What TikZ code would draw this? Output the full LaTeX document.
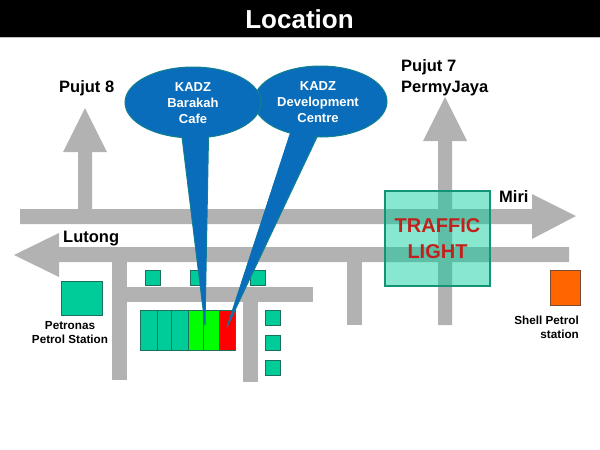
\documentclass[tikz,border=0pt]{standalone}
\usepackage{fontspec}
\setmainfont{Liberation Sans}
\usetikzlibrary{shapes.geometric, positioning}

\definecolor{roadgray}{HTML}{B2B2B2}
\definecolor{blockgreen}{HTML}{00CC99}
\definecolor{blockline}{HTML}{1F6F5F}
\definecolor{balloonblue}{HTML}{0A6DBB}
\definecolor{balloonline}{HTML}{12808F}
\definecolor{lightred}{HTML}{C0211C}
\definecolor{shellline}{HTML}{7A4A30}

\begin{document}
\begin{tikzpicture}[
    x=1pt, y=-1pt,
    % Define node styles
    road/.style={fill=roadgray},
    block/.style={
        rectangle,
        draw=blockline,
        fill=blockgreen,
        line width=0.8pt,
        minimum width=15pt,
        minimum height=15pt,
        inner sep=0pt
    },
    cell/.style={
        block,
        anchor=north west,
        minimum height=40pt
    },
    balloon/.style={
        ellipse,
        draw=balloonline,
        fill=balloonblue,
        line width=1pt,
        text=white,
        inner sep=0pt,
        align=center,
        font=\bfseries\fontsize{13}{16}\selectfont
    },
    place/.style={
        inner sep=0pt,
        align=left,
        font=\bfseries\fontsize{16.5}{20.5}\selectfont
    },
    small/.style={
        inner sep=0pt,
        font=\bfseries\fontsize{11.7}{14}\selectfont
    }
]
    \useasboundingbox (0,0) rectangle (600,450);

    % Title bar
    \fill[black] (0,0) rectangle (600,37);
    \node[text=white, inner sep=0pt, font=\bfseries\fontsize{26}{30}\selectfont] (title) at (299.5,19.5) {Location};
    \fill[gray!50] (0,37) rectangle (600,38.2);

    % Roads with arrow heads
    \fill[road] (20,209) -- (532,209) -- (532,194) -- (576,216) -- (532,239)
        -- (532,224) -- (20,224) -- cycle;
    \fill[road] (569,247) -- (59,247) -- (59,233) -- (14,255) -- (59,277)
        -- (59,262) -- (569,262) -- cycle;
    \fill[road] (78,209) -- (78,152) -- (63,152) -- (85,108) -- (107,152)
        -- (92,152) -- (92,209) -- cycle;
    \fill[road] (438,325) -- (438,141) -- (423,141) -- (445,97) -- (467,141)
        -- (452,141) -- (452,325) -- cycle;

    % Side streets
    \fill[road] (112,262) rectangle (127,380);
    \fill[road] (127,287) rectangle (313,302);
    \fill[road] (243,302) rectangle (258,382);
    \fill[road] (347,262) rectangle (362,325);

    % Small blocks
    \node[block] (b1) at (153,277.5) {};
    \node[block] (b2) at (198,277.5) {};
    \node[block] (b3) at (257.5,277.5) {};
    \node[block] (b4) at (272.5,317.5) {};
    \node[block] (b5) at (272.5,342.5) {};
    \node[block] (b6) at (272.5,367.5) {};

    % Row of shops
    \node[cell, minimum width=17pt] (s1) at (139.5,310) {};
    \node[cell, minimum width=14.5pt] (s2) at (156.5,310) {};
    \node[cell, minimum width=17pt] (s3) at (171,310) {};
    \node[cell, minimum width=14.5pt, fill=green] (s4) at (188,310) {};
    \node[cell, minimum width=16.5pt, fill=green] (s5) at (202.5,310) {};
    \node[cell, minimum width=16pt, fill=red] (s6) at (219,310) {};

    % Petrol stations
    \node[block, minimum width=41pt, minimum height=34pt] (petronas) at (81.5,298) {};
    \node[small, align=center] (petronaslabel) at (70,333) {Petronas\\Petrol Station};
    \node[block, fill=orange!80!red, draw=shellline, minimum width=30pt, minimum height=35pt] (shell) at (565,287.5) {};
    \node[small, align=right, anchor=east] (shelllabel) at (579,327) {Shell Petrol\\station};

    % Traffic light
    \node[rectangle, draw=blockline!60!blockgreen, line width=1.2pt, fill=blockgreen, fill opacity=0.47,
        minimum width=105pt, minimum height=95pt] (light) at (437.5,238.5) {};
    \node[text=lightred, inner sep=0pt, align=center,
        font=\bfseries\fontsize{20}{26}\selectfont] (lighttext) at (437.5,238.5) {TRAFFIC\\LIGHT};

    % Road labels
    \node[place, anchor=base west] (pujut8) at (59,92) {Pujut 8};
    \node[place, anchor=west] (pujut7) at (401,77.5) {Pujut 7\\PermyJaya};
    \node[place, anchor=base west] (miri) at (499,202) {Miri};
    \node[place, anchor=base west] (lutong) at (63,242) {Lutong};

    % Balloon of the development centre
    \coordinate (centretip) at (227,327);
    \coordinate (centreleft) at (290,135);
    \coordinate (centreright) at (317,137);
    \draw[fill=balloonblue, draw=balloonline, line width=1pt] (centreleft) -- (centretip) -- (centreright) -- cycle;
    \node[balloon, minimum width=133pt, minimum height=71pt] (centre) at (320.5,101.5) {};
    \fill[balloonblue] (291,130) -- (centretip) -- (316,130) -- cycle;
    \node[balloon, draw=none, fill=none] (centretext) at (318,102) {KADZ\\Development\\Centre};

    % Balloon of the cafe
    \coordinate (cafetip) at (205,325);
    \coordinate (cafeleft) at (182,137);
    \coordinate (caferight) at (208.5,137);
    \draw[fill=balloonblue, draw=balloonline, line width=1pt] (cafeleft) -- (cafetip) -- (caferight) -- cycle;
    \node[balloon, minimum width=136pt, minimum height=71pt] (cafe) at (193,102.5) {};
    \fill[balloonblue] (182,130) -- (cafetip) -- (208,130) -- cycle;
    \node[balloon, draw=none, fill=none] (cafetext) at (193,103) {KADZ\\Barakah\\Cafe};
\end{tikzpicture}
\end{document}
